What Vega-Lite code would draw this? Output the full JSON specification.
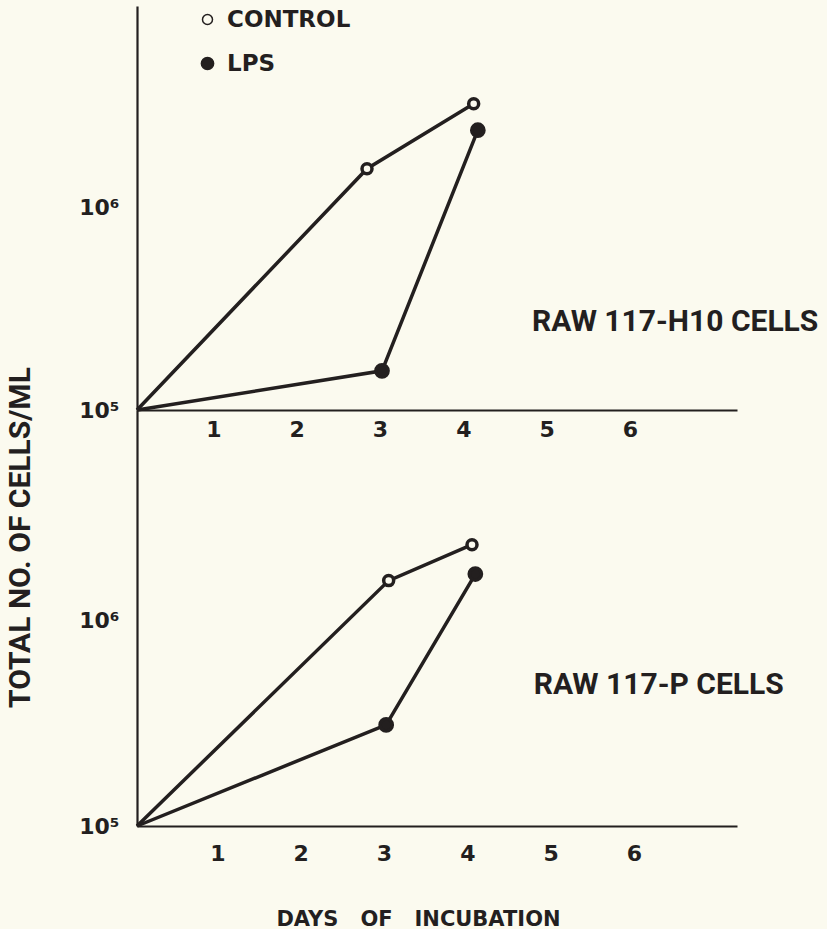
{
  "$schema": "https://vega.github.io/schema/vega-lite/v6.json",
  "background": "#fbfaef",
  "padding": {"left": 5, "top": 6, "right": 10, "bottom": 0},
  "datasets": {
    "cells": [
      {"panel": "H10", "series": "CONTROL", "day": 0, "cells": 100000},
      {"panel": "H10", "series": "CONTROL", "day": 2.76, "cells": 1550000},
      {"panel": "H10", "series": "CONTROL", "day": 4.04, "cells": 3240000},
      {"panel": "H10", "series": "LPS", "day": 0, "cells": 100000},
      {"panel": "H10", "series": "LPS", "day": 2.94, "cells": 156000},
      {"panel": "H10", "series": "LPS", "day": 4.09, "cells": 2400000},
      {"panel": "P", "series": "CONTROL", "day": 0, "cells": 100000},
      {"panel": "P", "series": "CONTROL", "day": 3.02, "cells": 1570000},
      {"panel": "P", "series": "CONTROL", "day": 4.02, "cells": 2350000},
      {"panel": "P", "series": "LPS", "day": 0, "cells": 100000},
      {"panel": "P", "series": "LPS", "day": 2.99, "cells": 311000},
      {"panel": "P", "series": "LPS", "day": 4.06, "cells": 1690000}
    ],
    "notes": [
      {"panel": "H10", "label": "RAW 117-H10 CELLS", "day": 4.74, "cells": 244000},
      {"panel": "P", "label": "RAW 117-P CELLS", "day": 4.76, "cells": 440000}
    ]
  },
  "spacing": 0,
  "bounds": "flush",
  "config": {
    "view": {"stroke": null},
    "axis": {
      "domainColor": "#231f1f",
      "domainWidth": 2.2,
      "ticks": false,
      "grid": false,
      "labelFont": "DejaVu Sans",
      "labelFontWeight": "bold",
      "labelFontSize": 22,
      "labelColor": "#231f1f"
    }
  },
  "vconcat": [
    {
      "width": 600,
      "height": 404,
      "encoding": {
        "x": {
          "field": "day", "type": "quantitative",
          "scale": {"domain": [0, 7.2], "nice": false, "zero": false},
          "axis": {"values": [1, 2, 3, 4, 5, 6], "title": null, "labelOffset": -7, "labelPadding": 9}
        },
        "y": {
          "field": "cells", "type": "quantitative",
          "scale": {"type": "log", "domain": [100000, 9840000], "nice": false},
          "axis": {
            "values": [100000, 1000000],
            "labelExpr": "datum.value < 500000 ? '10⁵' : '10⁶'",
            "labelPadding": 18,
            "title": "TOTAL NO. OF CELLS/ML",
            "titleFont": "Roboto",
            "titleFontWeight": "bold",
            "titleFontSize": 30,
            "titleColor": "#231f1f",
            "titleAngle": -90,
            "titleX": -117,
            "titleY": 531,
            "titleAlign": "center",
            "titleBaseline": "middle"
          }
        }
      },
      "layer": [
        {
          "data": {"name": "cells"},
          "transform": [{"filter": "datum.panel === 'H10'"}],
          "mark": {"type": "line", "color": "#231f1f", "strokeWidth": 3.5},
          "encoding": {"detail": {"field": "series"}}
        },
        {
          "data": {"name": "cells"},
          "transform": [{"filter": "datum.panel === 'H10' && datum.day > 0"}],
          "mark": {"type": "point", "filled": true, "shape": "circle", "stroke": "#231f1f", "strokeWidth": 3.5, "opacity": 1},
          "encoding": {
            "fill": {
              "field": "series", "type": "nominal",
              "scale": {"domain": ["CONTROL", "LPS"], "range": ["#fbfaef", "#231f1f"]},
              "legend": {"title": null, "orient": "none", "legendX": 59, "legendY": 2, "padding": 0, "rowPadding": 20, "labelFont": "DejaVu Sans", "labelFontWeight": "bold", "labelFontSize": 23, "labelColor": "#231f1f", "labelOffset": 8, "symbolType": "circle",
                "encode": {"symbols": {"update": {"stroke": {"value": "#231f1f"}, "strokeWidth": {"value": 3.5}, "opacity": {"value": 1}}}}}
            },
            "size": {
              "field": "series", "type": "ordinal",
              "scale": {"domain": ["CONTROL", "LPS"], "range": [100, 150]},
              "legend": {"title": null, "orient": "none", "legendX": 59, "legendY": 2, "padding": 0, "rowPadding": 20, "labelFont": "DejaVu Sans", "labelFontWeight": "bold", "labelFontSize": 23, "labelColor": "#231f1f", "labelOffset": 8, "symbolType": "circle",
                "encode": {"symbols": {"update": {"stroke": {"value": "#231f1f"}, "strokeWidth": {"value": 3.5}, "opacity": {"value": 1}}}}}
            }
          }
        },
        {
          "data": {"name": "notes"},
          "transform": [{"filter": "datum.panel === 'H10'"}],
          "mark": {"type": "text", "align": "left", "baseline": "alphabetic", "font": "Roboto", "fontWeight": "bold", "fontSize": 30, "fill": "#231f1f"},
          "encoding": {
            "text": {"field": "label", "type": "nominal"}
          }
        }
      ]
    },
    {
      "width": 600,
      "height": 416,
      "encoding": {
        "x": {
          "field": "day", "type": "quantitative",
          "scale": {"domain": [0, 7.2], "nice": false, "zero": false},
          "axis": {
            "values": [1, 2, 3, 4, 5, 6], "labelOffset": -3, "labelPadding": 17,
            "title": "DAYS\u00a0\u00a0\u00a0OF\u00a0\u00a0\u00a0INCUBATION",
            "titleFont": "DejaVu Sans",
            "titleFontWeight": "bold",
            "titleFontSize": 21,
            "titleColor": "#231f1f",
            "titleX": 281,
            "titleY": 99,
            "titleAlign": "center",
            "titleBaseline": "alphabetic"
          }
        },
        "y": {
          "field": "cells", "type": "quantitative",
          "scale": {"type": "log", "domain": [100000, 10650000], "nice": false},
          "axis": {
            "values": [100000, 1000000],
            "labelExpr": "datum.value < 500000 ? '10⁵' : '10⁶'",
            "labelPadding": 18,
            "title": null
          }
        }
      },
      "layer": [
        {
          "data": {"name": "cells"},
          "transform": [{"filter": "datum.panel === 'P'"}],
          "mark": {"type": "line", "color": "#231f1f", "strokeWidth": 3.5},
          "encoding": {"detail": {"field": "series"}}
        },
        {
          "data": {"name": "cells"},
          "transform": [{"filter": "datum.panel === 'P' && datum.day > 0"}],
          "mark": {"type": "point", "filled": true, "shape": "circle", "stroke": "#231f1f", "strokeWidth": 3.5, "opacity": 1},
          "encoding": {
            "fill": {
              "field": "series", "type": "nominal",
              "scale": {"domain": ["CONTROL", "LPS"], "range": ["#fbfaef", "#231f1f"]},
              "legend": null
            },
            "size": {
              "field": "series", "type": "ordinal",
              "scale": {"domain": ["CONTROL", "LPS"], "range": [100, 150]},
              "legend": null
            }
          }
        },
        {
          "data": {"name": "notes"},
          "transform": [{"filter": "datum.panel === 'P'"}],
          "mark": {"type": "text", "align": "left", "baseline": "alphabetic", "font": "Roboto", "fontWeight": "bold", "fontSize": 30, "fill": "#231f1f"},
          "encoding": {
            "text": {"field": "label", "type": "nominal"}
          }
        }
      ]
    }
  ]
}
